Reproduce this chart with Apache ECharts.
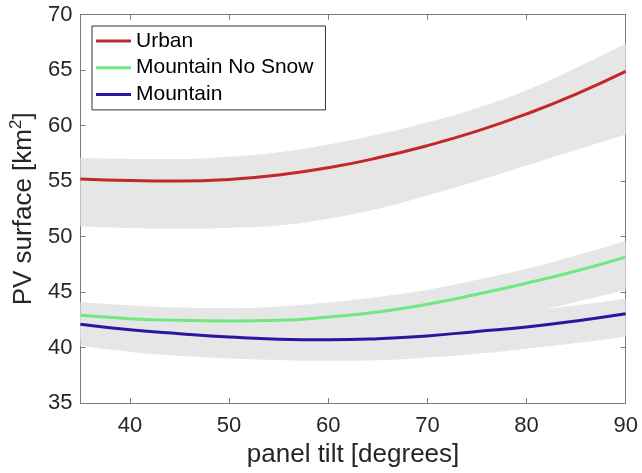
<!DOCTYPE html>
<html>

<head>
    <meta charset="utf-8">
    <script src="https://cdn.jsdelivr.net/npm/echarts@6/dist/echarts.min.js"></script>
    <style>
        * {
            padding: 0;
            margin: 0
        }

        body,
        html {
            height: 100%;
            width: 100%;
            background: #fff
        }

        #container {
            height: 473px;
            width: 642px
        }
    </style>
</head>

<body>
    <div id="container"></div>
</body>
<script>
    // panel tilt in degrees (evenly spaced, drawn on a category axis)
    const tilt = [35, 40, 45, 50, 55, 60, 65, 70, 75, 80, 85, 90];

    // PV surface (km2)
    const urban = [55.2, 55.05, 55.0, 55.15, 55.55, 56.2, 57.1, 58.2, 59.5, 61.05, 62.85, 64.9];
    const urbanLow = [50.9, 50.75, 50.7, 50.8, 51.0, 51.6, 52.5, 53.7, 55.0, 56.4, 57.8, 59.2];
    const urbanHigh = [57.1, 57.0, 57.0, 57.2, 57.6, 58.3, 59.2, 60.3, 61.6, 63.2, 65.2, 67.4];

    const noSnow = [42.9, 42.6, 42.45, 42.4, 42.45, 42.75, 43.2, 43.9, 44.8, 45.8, 46.9, 48.15];
    const noSnowLow = [40.8, 40.5, 40.3, 40.2, 40.3, 40.6, 41.0, 41.6, 42.3, 43.1, 44.1, 45.2];
    const noSnowHigh = [44.1, 43.8, 43.6, 43.55, 43.7, 44.05, 44.55, 45.2, 46.1, 47.1, 48.3, 49.6];

    const mountain = [42.1, 41.6, 41.25, 40.95, 40.75, 40.7, 40.8, 41.05, 41.45, 41.85, 42.4, 43.05];
    const mountainLow = [40.15, 39.6, 39.25, 39.0, 38.85, 38.8, 38.85, 39.1, 39.45, 39.9, 40.4, 41.0];
    const mountainHigh = [43.1, 42.7, 42.4, 42.2, 42.1, 42.1, 42.2, 42.45, 42.8, 43.25, 43.8, 44.4];

    const textColor = '#262626';
    const axisColor = '#7a7a7a';
    const bandColor = '#e6e6e6';
    const font = 'Liberation Sans';

    // only every 10 degrees gets a tick / label
    const everyTen = (i, v) => +v % 10 === 0;
    const diff = (hi, lo) => hi.map((v, i) => +(v - lo[i]).toFixed(3));

    function band(name, lo, hi) {
        return [{
            name: name + ' low',
            type: 'line',
            stack: name,
            smooth: true,
            symbol: 'none',
            silent: true,
            lineStyle: { opacity: 0 },
            data: lo
        }, {
            name: name + ' band',
            type: 'line',
            stack: name,
            smooth: true,
            symbol: 'none',
            silent: true,
            lineStyle: { opacity: 0 },
            areaStyle: { color: bandColor, opacity: 1 },
            data: diff(hi, lo)
        }];
    }

    function line(name, ys, color) {
        return {
            name: name,
            type: 'line',
            smooth: true,
            symbol: 'none',
            lineStyle: { width: 3, color: color },
            itemStyle: { color: color },
            data: ys
        };
    }

    const boxLine = { show: true, lineStyle: { color: axisColor, width: 1 } };
    const boxTick = { show: true, inside: true, length: 5, lineStyle: { color: axisColor } };

    const container = document.getElementById('container');
    let myChart = echarts.init(container);

    myChart.setOption({
        animation: false,
        backgroundColor: '#fff',
        grid: { left: 79.5, right: 16.3, top: 14.7, bottom: 69.7 },
        legend: {
            data: ['Urban', 'Mountain No Snow', 'Mountain'],
            orient: 'vertical',
            left: 92,
            top: 26,
            icon: 'rect',
            itemWidth: 35,
            itemHeight: 3,
            itemGap: 5.7,
            padding: [4.5, 12, 5, 4],
            selectedMode: false,
            backgroundColor: '#fff',
            borderColor: '#333',
            borderWidth: 1,
            borderRadius: 0,
            textStyle: { fontFamily: font, fontSize: 21, color: '#000', lineHeight: 21 }
        },
        xAxis: [{
            type: 'category',
            data: tilt,
            boundaryGap: false,
            name: 'panel tilt [degrees]',
            nameLocation: 'middle',
            nameGap: 39,
            nameTextStyle: { fontFamily: font, fontSize: 26, color: textColor },
            axisLine: boxLine,
            axisTick: Object.assign({ interval: everyTen }, boxTick),
            axisLabel: { interval: everyTen, margin: 12, fontFamily: font, fontSize: 22, color: textColor },
            splitLine: { show: false }
        }, {
            type: 'category',
            data: tilt,
            boundaryGap: false,
            position: 'top',
            axisLine: boxLine,
            axisTick: Object.assign({ interval: everyTen }, boxTick),
            axisLabel: { show: false },
            splitLine: { show: false }
        }],
        yAxis: [{
            type: 'value',
            min: 35,
            max: 70,
            interval: 5,
            name: 'PV surface [km{sup|2}]',
            nameLocation: 'middle',
            nameGap: 37,
            nameTextStyle: {
                fontFamily: font, fontSize: 26, color: textColor,
                rich: { sup: { fontFamily: font, fontSize: 17, color: textColor, padding: [0, 0, 15, 0] } }
            },
            axisLine: boxLine,
            axisTick: boxTick,
            axisLabel: { margin: 8, fontFamily: font, fontSize: 22, color: textColor },
            splitLine: { show: false }
        }, {
            type: 'value',
            min: 35,
            max: 70,
            interval: 5,
            position: 'right',
            axisLine: boxLine,
            axisTick: boxTick,
            axisLabel: { show: false },
            splitLine: { show: false }
        }],
        series: [
            ...band('Urban', urbanLow, urbanHigh),
            ...band('Mountain No Snow', noSnowLow, noSnowHigh),
            ...band('Mountain', mountainLow, mountainHigh),
            line('Urban', urban, '#c0282a'),
            line('Mountain No Snow', noSnow, '#70e880'),
            line('Mountain', mountain, '#2a16a0')
        ]
    });
</script>

</html>
